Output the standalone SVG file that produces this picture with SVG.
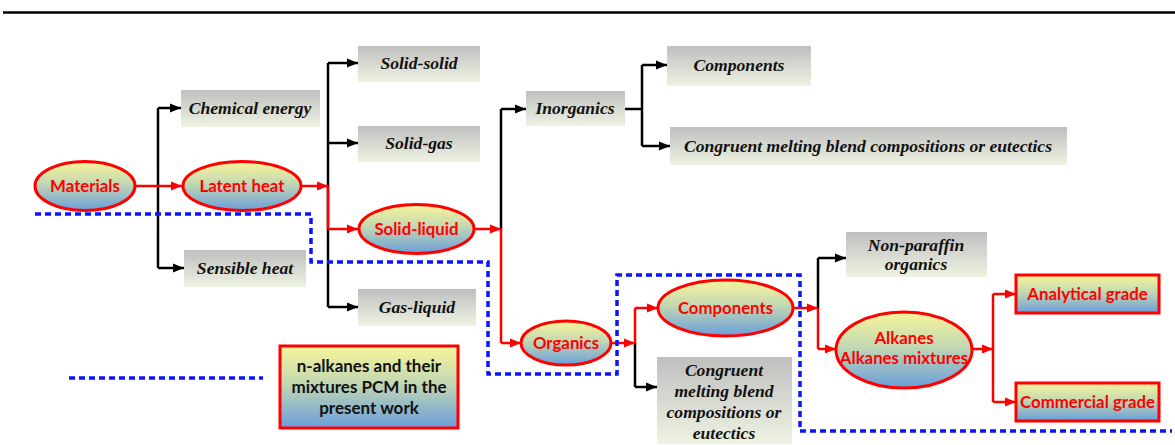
<svg xmlns="http://www.w3.org/2000/svg" width="1175" height="445" viewBox="0 0 1175 445">
<style>
.gb{fill:url(#gGrey)}
.el{fill:url(#gBlue);stroke:#ff0000;stroke-width:3}
.rb{fill:url(#gBlue);stroke:#ff0000;stroke-width:3}
.it{font-family:"Liberation Serif","Times New Roman",serif;font-style:italic;font-weight:bold;font-size:17.6px;fill:#111;text-anchor:middle}
.rt{font-family:Lato,"Open Sans",sans-serif;font-weight:bold;font-size:16.8px;fill:#ff0000;text-anchor:middle}
.kt{font-family:Lato,"Open Sans",sans-serif;font-weight:bold;font-size:17px;fill:#111;text-anchor:middle}
.bk{fill:none;stroke:#000;stroke-width:2.5}
.bka{fill:none;stroke:#000;stroke-width:2.5;marker-end:url(#aBlack)}
.rd{fill:none;stroke:#ff0000;stroke-width:2.5}
.rda{fill:none;stroke:#ff0000;stroke-width:2.5;marker-end:url(#aRed)}
.bl{fill:none;stroke:#0a14ff;stroke-width:3.5;stroke-dasharray:6 4}
</style>
<defs>
<linearGradient id="gGrey" x1="0" y1="0" x2="0" y2="1">
<stop offset="0" stop-color="#bfbfbf"/>
<stop offset="1" stop-color="#eef3e2"/>
</linearGradient>
<linearGradient id="gBlue" x1="0" y1="0" x2="0" y2="1">
<stop offset="0" stop-color="#f9f59a"/>
<stop offset="0.45" stop-color="#c3d8b2"/>
<stop offset="1" stop-color="#6a9edb"/>
</linearGradient>
<marker id="aBlack" markerUnits="userSpaceOnUse" markerWidth="12" markerHeight="10" refX="11" refY="5" orient="auto">
<path d="M0,0.5 L11,5 L0,9.5 Z" fill="#000"/>
</marker>
<marker id="aRed" markerUnits="userSpaceOnUse" markerWidth="12" markerHeight="10" refX="11" refY="5" orient="auto">
<path d="M0,0.5 L11,5 L0,9.5 Z" fill="#ff0000"/>
</marker>
</defs>

<line x1="3" y1="12.5" x2="1175" y2="12.5" stroke="#000" stroke-width="2.5"/>

<g id="connectors">
<path class="bk" d="M158,108 V268"/>
<path class="bka" d="M158,108 H181"/>
<path class="bka" d="M158,268 H184"/>
<path class="bk" d="M328,63 V307"/>
<path class="bka" d="M328,63 H358"/>
<path class="bka" d="M328,143 H358"/>
<path class="bka" d="M328,307 H358"/>
<path class="bk" d="M501,109 V229"/>
<path class="bka" d="M501,109 H526"/>
<path class="bk" d="M625,109 H642 M642,65 V146"/>
<path class="bka" d="M642,65 H667"/>
<path class="bka" d="M642,146 H670"/>
<path class="bk" d="M635,343 V387"/>
<path class="bka" d="M635,387 H657"/>
<path class="bk" d="M818,258 V308"/>
<path class="bka" d="M818,258 H846"/>

<path class="rda" d="M136,186 H182"/>
<path class="rda" d="M302,186 H328"/>
<path class="rd" d="M328,186 V229"/>
<path class="rda" d="M328,229 H358"/>
<path class="rda" d="M475,229 H501"/>
<path class="rd" d="M501,229 V343"/>
<path class="rda" d="M501,343 H521"/>
<path class="rda" d="M611,343 H635"/>
<path class="rd" d="M635,343 V308"/>
<path class="rda" d="M635,308 H658"/>
<path class="rda" d="M793,308 H818"/>
<path class="rd" d="M818,308 V349"/>
<path class="rda" d="M818,349 H836"/>
<path class="rda" d="M972,349 H993"/>
<path class="rd" d="M993,294 V402"/>
<path class="rda" d="M993,294 H1016"/>
<path class="rda" d="M993,402 H1016"/>
</g>

<g id="boundary">
<path class="bl" d="M35,214 H311 V262 H488 V374 H617 V275 H800 V431 H1172"/>
<path class="bl" d="M69,378 H263"/>
</g>

<g id="materials"><ellipse class="el" cx="85" cy="186" rx="50" ry="24.5"/><text class="rt" x="85" y="192">Materials</text></g>
<g id="chemical-energy"><rect class="gb" x="181" y="90" width="139" height="37"/><text class="it" x="250" y="114">Chemical energy</text></g>
<g id="sensible-heat"><rect class="gb" x="184" y="250" width="122" height="37"/><text class="it" x="245" y="274">Sensible heat</text></g>
<g id="latent-heat"><ellipse class="el" cx="242" cy="186" rx="59" ry="24.5"/><text class="rt" x="242" y="192">Latent heat</text></g>
<g id="solid-solid"><rect class="gb" x="358" y="46" width="122" height="36"/><text class="it" x="419" y="69">Solid-solid</text></g>
<g id="solid-gas"><rect class="gb" x="358" y="126" width="122" height="36"/><text class="it" x="419" y="149">Solid-gas</text></g>
<g id="solid-liquid"><ellipse class="el" cx="416.5" cy="229" rx="57.5" ry="24.5"/><text class="rt" x="416.5" y="235">Solid-liquid</text></g>
<g id="gas-liquid"><rect class="gb" x="358" y="289" width="118" height="37"/><text class="it" x="417" y="313">Gas-liquid</text></g>
<g id="inorganics"><rect class="gb" x="526" y="91" width="99" height="35"/><text class="it" x="575" y="114">Inorganics</text></g>
<g id="inorg-components"><rect class="gb" x="667" y="46" width="144" height="40"/><text class="it" x="739" y="71">Components</text></g>
<g id="inorg-congruent"><rect class="gb" x="670" y="127" width="397" height="38"/><text class="it" x="868" y="152">Congruent melting blend compositions or eutectics</text></g>
<g id="organics"><ellipse class="el" cx="566" cy="343" rx="45" ry="22"/><text class="rt" x="566" y="349">Organics</text></g>
<g id="org-components"><ellipse class="el" cx="725.5" cy="308" rx="67.5" ry="28"/><text class="rt" x="725.5" y="314">Components</text></g>
<g id="org-congruent"><rect class="gb" x="657" y="357" width="135" height="87"/>
<text class="it" x="724" y="376">Congruent</text><text class="it" x="724" y="397">melting blend</text><text class="it" x="724" y="418">compositions or</text><text class="it" x="724" y="439">eutectics</text></g>
<g id="non-paraffin"><rect class="gb" x="846" y="232" width="141" height="45"/>
<text class="it" x="916" y="251">Non-paraffin</text><text class="it" x="916" y="270">organics</text></g>
<g id="alkanes"><ellipse class="el" cx="904" cy="350" rx="68" ry="38"/>
<text class="rt" x="904" y="344">Alkanes</text><text class="rt" x="904" y="364">Alkanes mixtures</text></g>
<g id="analytical-grade"><rect class="rb" x="1016" y="275" width="143" height="38"/><text class="rt" x="1087.5" y="300">Analytical grade</text></g>
<g id="commercial-grade"><rect class="rb" x="1016" y="383" width="143" height="38"/><text class="rt" x="1087.5" y="408">Commercial grade</text></g>
<g id="legend"><rect class="rb" x="280" y="346" width="178" height="82"/>
<text class="kt" x="369" y="372">n-alkanes and their</text><text class="kt" x="369" y="393">mixtures PCM in the</text><text class="kt" x="369" y="414">present work</text></g>
</svg>
